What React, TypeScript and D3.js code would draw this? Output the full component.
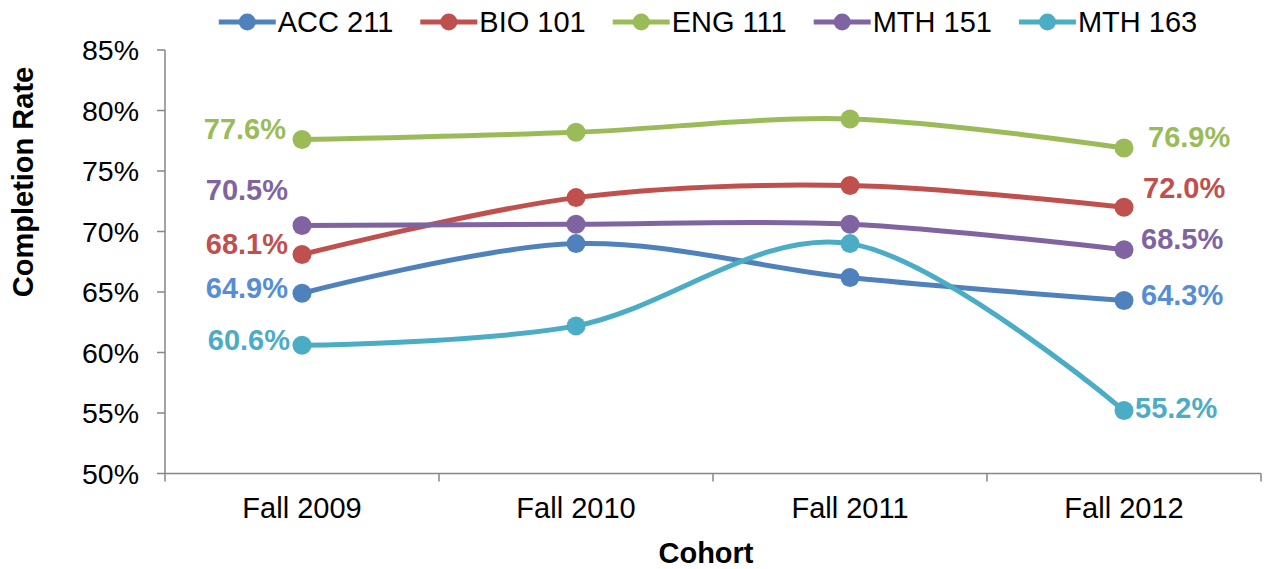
import { useEffect, useRef } from "react";
import * as d3 from "d3";

const cohorts = ["Fall 2009", "Fall 2010", "Fall 2011", "Fall 2012"];
const courses = ["ACC 211", "BIO 101", "ENG 111", "MTH 151", "MTH 163"];

const acc211 = [64.9, 69.0, 66.2, 64.3];
const bio101 = [68.1, 72.8, 73.8, 72.0];
const eng111 = [77.6, 78.2, 79.3, 76.9];
const mth151 = [70.5, 70.6, 70.6, 68.5];
const mth163 = [60.6, 62.2, 69.0, 55.2];

const yTicks = [50, 55, 60, 65, 70, 75, 80, 85];

const lineColors = ["#4F81BD", "#C0504D", "#9BBB59", "#8064A2", "#4BACC6"];
const labelColors = ["#558ED5", "#C0504D", "#9BBB59", "#8064A2", "#4BACC6"];

// label nudges (first / last point), manual like the original
const leftNudge = [
  [-14, -6],
  [-14, -11],
  [-16, -11],
  [-14, -36],
  [-12, -6],
];
const rightNudge = [
  [17, -6],
  [19, -20],
  [24, -11],
  [17, -11],
  [11, -3],
];

const W = 1266;
const H = 569;
const FONT = "'Liberation Sans', Arial, Helvetica, sans-serif";
const FS = 29;

export default function App() {
  const svgRef = useRef<SVGSVGElement>(null);

  useEffect(() => {
    if (!svgRef.current) return;
    const svg = d3.select(svgRef.current);
    svg.selectAll("*").remove();

    const series = [acc211, bio101, eng111, mth151, mth163];
    const left = 165;
    const right = 1261;
    const top = 50;
    const bottom = 473.5;

    const x = d3.scaleBand<string>().domain(cohorts).range([left, right]);
    const y = d3.scaleLinear().domain([50, 85]).range([bottom, top]);
    const cx = (c: string) => (x(c) ?? 0) + x.bandwidth() / 2;

    const axisColor = "#868686";

    // y axis
    const yAxis = svg.append("g");
    yAxis
      .append("line")
      .attr("x1", left)
      .attr("x2", left)
      .attr("y1", top)
      .attr("y2", bottom)
      .attr("stroke", axisColor)
      .attr("stroke-width", 1.5);
    yAxis
      .selectAll("line.tick")
      .data(yTicks)
      .enter()
      .append("line")
      .attr("class", "tick")
      .attr("x1", left - 8)
      .attr("x2", left)
      .attr("y1", (d) => y(d))
      .attr("y2", (d) => y(d))
      .attr("stroke", axisColor)
      .attr("stroke-width", 1.5);
    yAxis
      .selectAll("text")
      .data(yTicks)
      .enter()
      .append("text")
      .attr("x", left - 26)
      .attr("y", (d) => y(d))
      .attr("dy", "0.36em")
      .attr("text-anchor", "end")
      .attr("font-size", 28.5)
      .attr("font-family", FONT)
      .attr("fill", "#000")
      .text((d) => `${d}%`);

    // x axis
    const xAxis = svg.append("g");
    xAxis
      .append("line")
      .attr("x1", left)
      .attr("x2", right)
      .attr("y1", bottom)
      .attr("y2", bottom)
      .attr("stroke", axisColor)
      .attr("stroke-width", 1.5);
    const bounds = cohorts.map((c) => x(c) ?? 0).concat([right]);
    xAxis
      .selectAll("line.tick")
      .data(bounds)
      .enter()
      .append("line")
      .attr("class", "tick")
      .attr("x1", (d) => d)
      .attr("x2", (d) => d)
      .attr("y1", bottom)
      .attr("y2", bottom + 8)
      .attr("stroke", axisColor)
      .attr("stroke-width", 1.5);
    xAxis
      .selectAll("text")
      .data(cohorts)
      .enter()
      .append("text")
      .attr("x", (d) => cx(d))
      .attr("y", 518)
      .attr("text-anchor", "middle")
      .attr("font-size", FS)
      .attr("font-family", FONT)
      .attr("fill", "#000")
      .text((d) => d);

    // axis titles
    svg
      .append("text")
      .attr("transform", "translate(33,182) rotate(-90)")
      .attr("text-anchor", "middle")
      .attr("font-size", FS)
      .attr("font-weight", "bold")
      .attr("font-family", FONT)
      .text("Completion Rate");
    svg
      .append("text")
      .attr("x", 706)
      .attr("y", 563)
      .attr("text-anchor", "middle")
      .attr("font-size", FS)
      .attr("font-weight", "bold")
      .attr("font-family", FONT)
      .text("Cohort");

    // lines + markers
    const line = d3
      .line<number>()
      .x((_, i) => cx(cohorts[i]))
      .y((d) => y(d))
      .curve(d3.curveCatmullRom.alpha(0));

    series.forEach((vals, si) => {
      const g = svg.append("g");
      g.append("path")
        .attr("d", line(vals) || "")
        .attr("fill", "none")
        .attr("stroke", lineColors[si])
        .attr("stroke-width", 5)
        .attr("stroke-linecap", "round");
      g.selectAll("circle")
        .data(vals)
        .enter()
        .append("circle")
        .attr("cx", (_, i) => cx(cohorts[i]))
        .attr("cy", (d) => y(d))
        .attr("r", 9.5)
        .attr("fill", lineColors[si]);
    });

    // end labels
    series.forEach((vals, si) => {
      const last = vals.length - 1;
      const ends = [
        { v: vals[0], c: cohorts[0], n: leftNudge[si], anchor: "end" },
        { v: vals[last], c: cohorts[last], n: rightNudge[si], anchor: "start" },
      ];
      ends.forEach((e) => {
        svg
          .append("text")
          .attr("x", cx(e.c) + e.n[0])
          .attr("y", y(e.v) + e.n[1])
          .attr("dy", "0.36em")
          .attr("text-anchor", e.anchor)
          .attr("font-size", FS)
          .attr("font-weight", "bold")
          .attr("font-family", FONT)
          .attr("fill", labelColors[si])
          .text(`${e.v.toFixed(1)}%`);
      });
    });

    // legend
    const legend = svg.append("g");
    const items = courses.map((name, i) => {
      const it = legend.append("g");
      it.append("line")
        .attr("x1", 0)
        .attr("x2", 57)
        .attr("y1", 22)
        .attr("y2", 22)
        .attr("stroke", lineColors[i])
        .attr("stroke-width", 5);
      it.append("circle").attr("cx", 28.5).attr("cy", 22).attr("r", 8.5).attr("fill", lineColors[i]);
      const t = it
        .append("text")
        .attr("x", 59)
        .attr("y", 32)
        .attr("font-size", FS)
        .attr("font-family", FONT)
        .attr("fill", "#000")
        .text(name);
      const tw = (t.node() as SVGTextElement).getComputedTextLength();
      return { it, w: 59 + tw };
    });
    const gap = 27;
    const total = d3.sum(items, (d) => d.w) + gap * (items.length - 1);
    let pos = 708 - total / 2;
    items.forEach((d) => {
      d.it.attr("transform", `translate(${pos},0)`);
      pos += d.w + gap;
    });
  }, []);

  return (
    <div style={{ position: "absolute", left: 0, top: 0, width: W, height: H, background: "#fff" }}>
      <svg ref={svgRef} width={W} height={H} style={{ display: "block" }} />
    </div>
  );
}
